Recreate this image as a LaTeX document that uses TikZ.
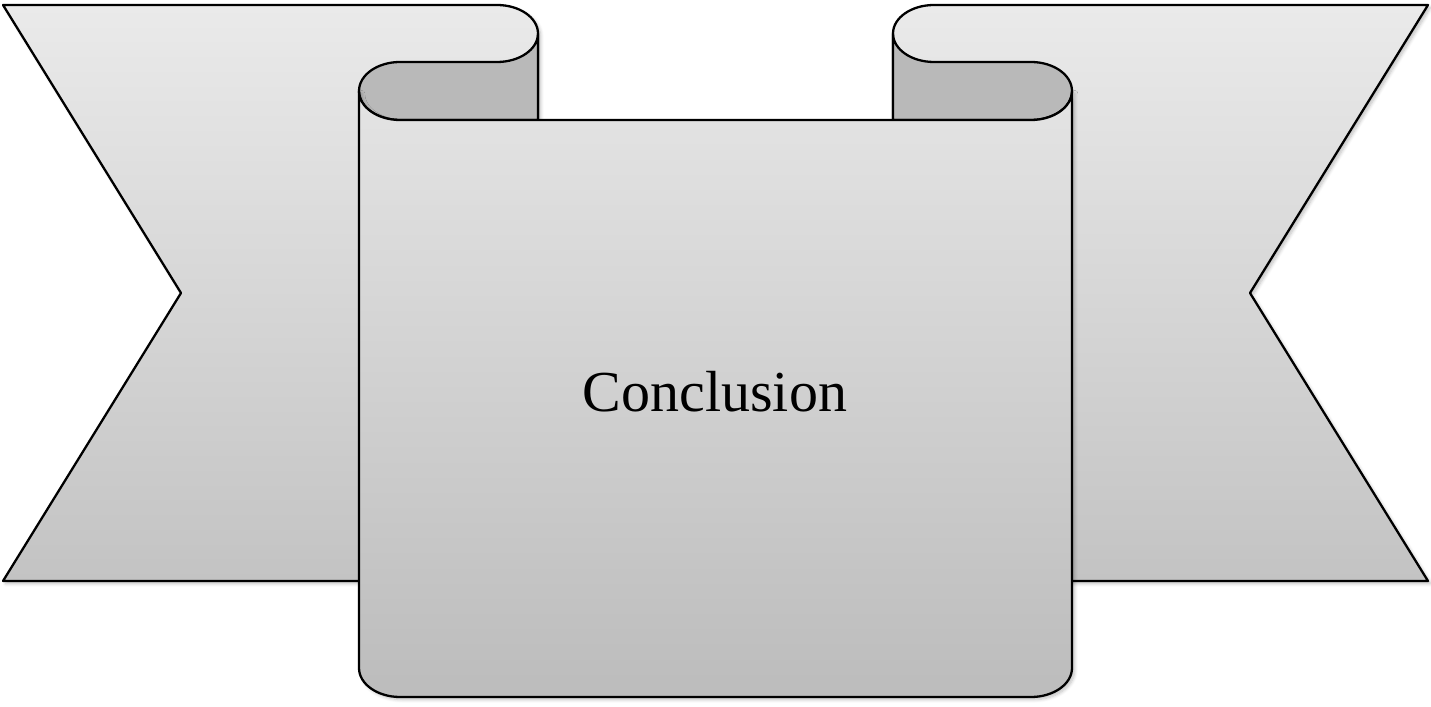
\documentclass[tikz,border=0pt]{standalone}
\usepackage{fontspec}
\setmainfont{Liberation Serif}
\usetikzlibrary{shadows.blur}
\definecolor{wingtop}{HTML}{EAEAEA}
\definecolor{wingbot}{HTML}{C3C3C3}
\definecolor{fronttop}{HTML}{E4E4E4}
\definecolor{frontbot}{HTML}{BCBCBC}
\definecolor{backfill}{HTML}{B9B9B9}
\tikzset{
  outline/.style={draw=black, line width=1.3pt, line join=round},
  wingface/.style={outline, top color=wingtop, bottom color=wingbot,
    blur shadow={shadow xshift=1.5pt, shadow yshift=-1.5pt, shadow blur steps=6, shadow opacity=25}},
  backface/.style={outline, fill=backfill},
  frontface/.style={outline, top color=fronttop, bottom color=frontbot,
    blur shadow={shadow xshift=1.5pt, shadow yshift=-1.5pt, shadow blur steps=6, shadow opacity=25}},
  label/.style={font=\fontsize{33}{40}\selectfont, text=black, anchor=base, inner sep=0pt}
}
\begin{document}
\begin{tikzpicture}[x=0.02cm, y=0.02cm]
\useasboundingbox (0,0) rectangle (1431,707);
% left wing
\path[wingface] (3,702) -- (497,702)
  arc[start angle=90, end angle=0, x radius=41, y radius=28.5]
  -- (538,126) -- (3,126) -- (181,414) -- cycle;
% right wing
\path[wingface] (1428,702) -- (934,702)
  arc[start angle=90, end angle=180, x radius=41, y radius=28.5]
  -- (893,126) -- (1428,126) -- (1250,414) -- cycle;
% left back strip
\path[backface] (400,645) -- (497,645)
  arc[start angle=-90, end angle=0, x radius=41, y radius=28.5]
  -- (538,587) -- (400,587)
  arc[start angle=-90, end angle=-270, x radius=41, y radius=29] -- cycle;
% right back strip
\path[backface] (1031,645) -- (934,645)
  arc[start angle=270, end angle=180, x radius=41, y radius=28.5]
  -- (893,587) -- (1031,587)
  arc[start angle=-90, end angle=90, x radius=41, y radius=29] -- cycle;
% centre front panel
\path[frontface] (359,616)
  arc[start angle=180, end angle=270, x radius=41, y radius=29]
  -- (1031,587)
  arc[start angle=270, end angle=360, x radius=41, y radius=29]
  -- (1072,39)
  arc[start angle=0, end angle=-90, x radius=41, y radius=29]
  -- (400,10)
  arc[start angle=270, end angle=180, x radius=41, y radius=29]
  -- cycle;
\node[label] (title) at (715,295) {Conclusion};
\end{tikzpicture}
\end{document}
